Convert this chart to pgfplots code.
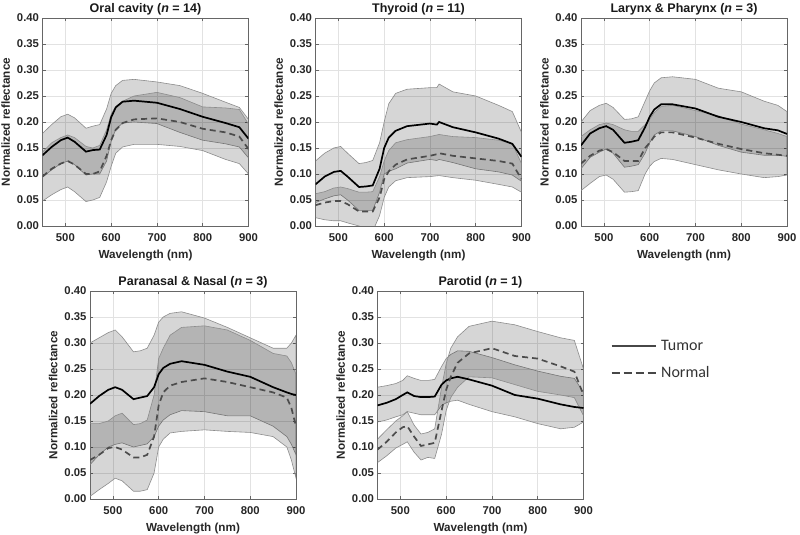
\documentclass[border=0pt]{standalone}
\usepackage{fontspec}
\setmainfont{Liberation Sans}
\newfontfamily\legfont{Carlito}
\usepackage{pgfplots}
\usepackage{pgfplotstable}
\pgfplotsset{compat=1.18}

\definecolor{bandline}{HTML}{8C8C8C}
\definecolor{gridc}{HTML}{E2E2E2}

% ---------- mean spectra: wavelength, tumor mean, normal mean ----------
\pgfplotstableread{
wl tm nm
450 0.136 0.095
470 0.152 0.110
490 0.165 0.120
505 0.170 0.125
520 0.162 0.118
545 0.143 0.100
560 0.146 0.100
575 0.147 0.105
590 0.175 0.135
600 0.209 0.165
610 0.228 0.185
625 0.239 0.198
650 0.241 0.205
700 0.237 0.207
750 0.225 0.200
800 0.210 0.187
850 0.198 0.180
880 0.190 0.172
900 0.168 0.148
}\oral
\pgfplotstableread{
wl tm nm
450 0.080 0.040
470 0.095 0.045
490 0.104 0.048
505 0.106 0.048
520 0.095 0.042
545 0.075 0.028
560 0.076 0.028
575 0.078 0.028
590 0.110 0.055
600 0.150 0.090
610 0.170 0.105
625 0.183 0.118
650 0.192 0.128
700 0.197 0.135
715 0.195 0.138
720 0.200 0.140
750 0.190 0.135
800 0.180 0.130
850 0.168 0.125
880 0.158 0.120
900 0.133 0.090
}\thyroid
\pgfplotstableread{
wl tm nm
450 0.155 0.120
470 0.178 0.135
490 0.188 0.145
505 0.192 0.148
520 0.185 0.142
545 0.160 0.125
560 0.162 0.125
575 0.165 0.125
590 0.190 0.150
600 0.210 0.160
610 0.224 0.172
625 0.234 0.180
650 0.234 0.180
700 0.226 0.170
750 0.210 0.158
800 0.200 0.148
850 0.188 0.140
880 0.184 0.137
900 0.177 0.135
}\larynx
\pgfplotstableread{
wl tm nm
450 0.183 0.075
470 0.198 0.085
490 0.210 0.098
505 0.215 0.100
520 0.210 0.095
545 0.192 0.080
560 0.195 0.080
575 0.198 0.085
590 0.215 0.120
600 0.240 0.180
610 0.252 0.205
625 0.260 0.218
650 0.265 0.225
700 0.258 0.232
750 0.245 0.225
800 0.235 0.215
850 0.215 0.205
880 0.205 0.195
890 0.202 0.175
900 0.200 0.140
}\paranasal
\pgfplotstableread{
wl tm nm
450 0.180 0.095
470 0.185 0.110
490 0.192 0.128
505 0.200 0.138
515 0.205 0.140
530 0.198 0.120
545 0.196 0.102
560 0.196 0.105
575 0.197 0.108
590 0.220 0.170
600 0.228 0.210
610 0.232 0.235
625 0.235 0.262
650 0.230 0.280
700 0.218 0.290
750 0.200 0.275
800 0.193 0.270
850 0.182 0.255
880 0.177 0.245
900 0.175 0.200
}\parotid

% ---------- bands (upper edge forward, lower edge backward) ----------
\pgfplotstableread{
wl r
450 0.178
470 0.195
490 0.210
505 0.215
520 0.208
545 0.188
560 0.192
575 0.195
590 0.225
600 0.255
610 0.270
625 0.280
650 0.282
700 0.277
750 0.270
800 0.255
850 0.238
880 0.228
900 0.205
900 0.131
880 0.152
850 0.158
800 0.165
750 0.180
700 0.197
650 0.200
625 0.198
610 0.186
600 0.163
590 0.125
575 0.100
560 0.100
545 0.098
520 0.118
505 0.125
490 0.120
470 0.108
450 0.094
}\oralTB
\pgfplotstableread{
wl r
450 0.142
470 0.160
490 0.170
505 0.175
520 0.170
545 0.153
560 0.150
575 0.155
590 0.185
600 0.215
610 0.230
625 0.240
650 0.250
700 0.257
750 0.247
800 0.229
850 0.227
880 0.224
900 0.196
900 0.100
880 0.120
850 0.128
800 0.145
750 0.153
700 0.157
650 0.157
625 0.152
610 0.140
600 0.115
590 0.085
575 0.055
560 0.050
545 0.047
520 0.066
505 0.075
490 0.070
470 0.060
450 0.048
}\oralNB
\pgfplotstableread{
wl r
450 0.125
470 0.140
490 0.150
505 0.153
520 0.140
545 0.120
560 0.122
575 0.126
590 0.160
600 0.200
610 0.235
625 0.255
650 0.263
700 0.266
715 0.266
720 0.273
750 0.258
800 0.250
850 0.232
880 0.220
900 0.180
900 0.086
880 0.098
850 0.104
800 0.110
750 0.122
720 0.128
715 0.126
700 0.128
650 0.121
625 0.110
610 0.105
600 0.100
590 0.065
575 0.030
560 0.030
545 0.030
520 0.050
505 0.060
490 0.058
470 0.052
450 0.045
}\thyroidTB
\pgfplotstableread{
wl r
450 0.062
470 0.066
490 0.073
505 0.075
520 0.072
545 0.065
560 0.065
575 0.066
590 0.095
600 0.125
610 0.145
625 0.160
650 0.166
700 0.172
720 0.176
750 0.172
800 0.170
850 0.165
880 0.158
900 0.120
900 0.065
880 0.075
850 0.080
800 0.088
750 0.093
720 0.097
700 0.095
650 0.093
625 0.087
610 0.075
600 0.055
590 0.020
575 -0.010
560 -0.005
545 0.000
520 0.006
505 0.010
490 0.010
470 0.012
450 0.016
}\thyroidNB
\pgfplotstableread{
wl r
450 0.200
470 0.222
490 0.232
505 0.236
520 0.228
545 0.205
560 0.206
575 0.210
590 0.240
600 0.260
610 0.275
625 0.285
650 0.287
700 0.282
750 0.265
800 0.258
850 0.240
880 0.232
900 0.220
900 0.134
880 0.136
850 0.136
800 0.142
750 0.155
700 0.172
650 0.183
625 0.183
610 0.175
600 0.160
590 0.140
575 0.118
560 0.115
545 0.113
520 0.140
505 0.148
490 0.142
470 0.132
450 0.110
}\larynxTB
\pgfplotstableread{
wl r
450 0.172
470 0.185
490 0.195
505 0.198
520 0.195
545 0.185
560 0.182
575 0.182
590 0.195
600 0.205
610 0.218
625 0.230
650 0.232
700 0.222
750 0.212
800 0.196
850 0.185
880 0.178
900 0.172
900 0.098
880 0.095
850 0.093
800 0.100
750 0.108
700 0.118
650 0.128
625 0.130
610 0.124
600 0.115
590 0.100
575 0.068
560 0.066
545 0.065
520 0.090
505 0.098
490 0.095
470 0.082
450 0.068
}\larynxNB
\pgfplotstableread{
wl r
450 0.300
470 0.310
490 0.320
505 0.325
520 0.312
545 0.283
560 0.285
575 0.290
590 0.315
600 0.340
610 0.350
625 0.357
650 0.360
700 0.348
750 0.330
800 0.310
850 0.290
880 0.290
890 0.300
900 0.315
900 0.085
890 0.105
880 0.120
850 0.140
800 0.160
750 0.160
700 0.168
650 0.170
625 0.162
610 0.152
600 0.140
590 0.120
575 0.106
560 0.103
545 0.100
520 0.108
505 0.105
490 0.100
470 0.085
450 0.066
}\paranasalTB
\pgfplotstableread{
wl r
450 0.145
470 0.145
490 0.150
505 0.160
520 0.165
545 0.143
560 0.145
575 0.152
590 0.200
600 0.270
610 0.290
625 0.315
650 0.330
700 0.333
750 0.325
800 0.305
850 0.280
880 0.275
890 0.262
900 0.240
900 0.040
890 0.075
880 0.100
850 0.120
800 0.128
750 0.130
700 0.133
650 0.130
625 0.127
610 0.115
600 0.100
590 0.050
575 0.018
560 0.015
545 0.015
520 0.035
505 0.040
490 0.030
470 0.018
450 0.005
}\paranasalNB
\pgfplotstableread{
wl r
450 0.215
470 0.218
490 0.222
505 0.228
515 0.237
530 0.232
545 0.228
560 0.228
575 0.230
590 0.255
600 0.270
610 0.278
625 0.285
650 0.284
700 0.272
750 0.258
800 0.246
850 0.236
880 0.232
900 0.205
900 0.148
880 0.138
850 0.135
800 0.145
750 0.158
700 0.168
650 0.182
625 0.190
610 0.188
600 0.185
590 0.180
575 0.162
560 0.162
545 0.162
530 0.165
515 0.168
505 0.162
490 0.158
470 0.152
450 0.148
}\parotidTB
\pgfplotstableread{
wl r
450 0.115
470 0.133
490 0.150
505 0.160
515 0.168
530 0.142
545 0.125
560 0.128
575 0.135
590 0.215
600 0.260
610 0.290
625 0.312
650 0.332
700 0.342
750 0.335
800 0.322
850 0.310
880 0.305
900 0.250
900 0.160
880 0.195
850 0.200
800 0.207
750 0.220
700 0.233
650 0.235
625 0.215
610 0.195
600 0.170
590 0.125
575 0.078
560 0.080
545 0.075
530 0.090
515 0.110
505 0.105
490 0.098
470 0.083
450 0.070
}\parotidNB

\pgfplotsset{
  panel/.style={
    scale only axis, width=206pt, height=208pt,
    anchor=south west,
    xmin=450, xmax=900, ymin=0, ymax=0.4,
    xtick={500,600,700,800,900},
    ytick={0,0.05,0.1,0.15,0.2,0.25,0.3,0.35,0.4},
    grid=major, grid style={color=gridc, line width=0.6pt},
    axis line style={color=black!60, line width=0.9pt},
    tick style={color=black!60, line width=0.6pt},
    tick align=inside, major tick length=3pt,
    yticklabel style={/pgf/number format/.cd, fixed, fixed zerofill, precision=2},
    xticklabel style={yshift=-4pt},
    /pgf/number format/assume math mode=true,
    ticklabel style={font=\fontsize{11.3}{13}\selectfont\bfseries, color=black!85},
    label style={font=\fontsize{11.7}{13}\selectfont\bfseries, color=black!85},
    xlabel style={yshift=-2pt},
    title style={font=\fontsize{12.5}{14}\selectfont\bfseries, color=black!90,
      at={(0.5,1)}, anchor=base, yshift=-0.5pt},
    xlabel={Wavelength (nm)}, ylabel={Normalized reflectance},
  },
  band/.style={fill=black, fill opacity=0.16, draw=bandline, line width=0.6pt, forget plot},
  tumor/.style={black, line width=1.7pt, forget plot},
  normal/.style={black!70, line width=1.7pt, dash pattern=on 6pt off 4pt, forget plot},
}

\begin{document}
\begin{tikzpicture}
\path[use as bounding box] (0,0) rectangle (800pt,535pt);

\begin{axis}[panel, at={(42.5pt,309pt)}, title={Oral cavity (\textit{n} = 14)}]
\addplot[band] table[x=wl,y=r]{\oralTB} -- cycle;
\addplot[band] table[x=wl,y=r]{\oralNB} -- cycle;
\addplot[tumor] table[x=wl,y=tm]{\oral};
\addplot[normal] table[x=wl,y=nm]{\oral};
\end{axis}

\begin{axis}[panel, at={(315.5pt,309pt)}, title={Thyroid (\textit{n} = 11)}]
\addplot[band] table[x=wl,y=r]{\thyroidTB} -- cycle;
\addplot[band] table[x=wl,y=r]{\thyroidNB} -- cycle;
\addplot[tumor] table[x=wl,y=tm]{\thyroid};
\addplot[normal] table[x=wl,y=nm]{\thyroid};
\end{axis}

\begin{axis}[panel, at={(581pt,309pt)}, title={Larynx \& Pharynx (\textit{n} = 3)}]
\addplot[band] table[x=wl,y=r]{\larynxTB} -- cycle;
\addplot[band] table[x=wl,y=r]{\larynxNB} -- cycle;
\addplot[tumor] table[x=wl,y=tm]{\larynx};
\addplot[normal] table[x=wl,y=nm]{\larynx};
\end{axis}

\begin{axis}[panel, at={(90pt,36pt)}, title={Paranasal \& Nasal (\textit{n} = 3)}]
\addplot[band] table[x=wl,y=r]{\paranasalTB} -- cycle;
\addplot[band] table[x=wl,y=r]{\paranasalNB} -- cycle;
\addplot[tumor] table[x=wl,y=tm]{\paranasal};
\addplot[normal] table[x=wl,y=nm]{\paranasal};
\end{axis}

\begin{axis}[panel, at={(377.5pt,36pt)}, title={Parotid (\textit{n} = 1)},
  legend style={at={(1.13,0.765)}, anchor=north west, draw=none, fill=none,
    font=\legfont\fontsize{16}{18}\selectfont, text=black!80,
    row sep=15pt, inner sep=0pt, cells={anchor=west},
    nodes={inner xsep=4.5pt, inner ysep=0pt}},
  legend image code/.code={\draw[#1] (0pt,0pt) -- (44pt,0pt);}]
\addplot[band] table[x=wl,y=r]{\parotidTB} -- cycle;
\addplot[band] table[x=wl,y=r]{\parotidNB} -- cycle;
\addplot[tumor] table[x=wl,y=tm]{\parotid};
\addplot[normal] table[x=wl,y=nm]{\parotid};
\addlegendimage{black!72, line width=2.2pt}
\addlegendentry{Tumor}
\addlegendimage{black!72, line width=2.2pt, dash pattern=on 8pt off 4pt}
\addlegendentry{Normal}
\end{axis}
\end{tikzpicture}
\end{document}
